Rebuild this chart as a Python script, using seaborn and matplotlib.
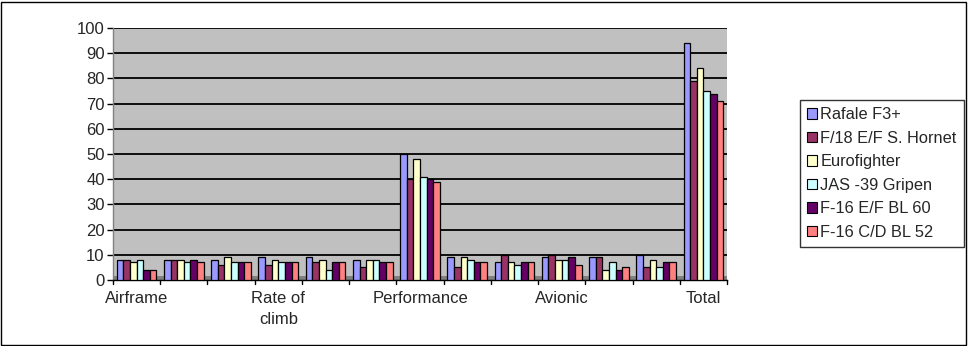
import numpy as np
import pandas as pd
import matplotlib
matplotlib.use("Agg")
import matplotlib.pyplot as plt
import seaborn as sns

series = ["Rafale F3+", "F/18 E/F S. Hornet", "Eurofighter", "JAS -39 Gripen",
          "F-16 E/F BL 60", "F-16 C/D BL 52"]
colors = ["#9999FF", "#993366", "#FFFFCC", "#CCFFFF", "#660066", "#FF8080"]

# 13 categories; only every third label is displayed in the original chart
tick_labels = ["Airframe", "", "", "Rate of\nclimb", "", "", "Performance",
               "", "", "Avionic", "", "", "Total"]

rafale   = [8, 8, 8, 9, 9, 8, 50, 9, 7, 9, 9, 10, 94]
hornet   = [8, 8, 6, 6, 7, 5, 40, 5, 10, 10, 9, 5, 79]
eurofigh = [7, 8, 9, 8, 8, 8, 48, 9, 7, 8, 4, 8, 84]
gripen   = [8, 7, 7, 7, 4, 8, 41, 8, 6, 8, 7, 5, 75]
f16ef    = [4, 8, 7, 7, 7, 7, 40, 7, 7, 9, 4, 7, 74]
f16cd    = [4, 7, 7, 7, 7, 7, 39, 7, 7, 6, 5, 7, 71]

values = [rafale, hornet, eurofigh, gripen, f16ef, f16cd]
rows = []
for s, vals in zip(series, values):
    for i, v in enumerate(vals):
        rows.append({"cat": i, "series": s, "value": v})
df = pd.DataFrame(rows)

sns.set_style("white")
plt.rcParams["font.family"] = ["Liberation Sans", "DejaVu Sans"]

fig = plt.figure(figsize=(9.68, 3.46), dpi=100)
W, H = 968, 346
ax = fig.add_axes([113 / W, 1 - 280 / H, (727 - 113) / W, (280 - 28) / H])
ax.set_facecolor("#C0C0C0")

sns.barplot(data=df, x="cat", y="value", hue="series", hue_order=series,
            palette=colors, width=0.84, edgecolor="black", linewidth=0.9,
            ax=ax, saturation=1, legend=True, zorder=3)

ax.set_ylim(0, 100)
ax.set_xlim(-0.5, 12.5)
ax.set_yticks(np.arange(0, 101, 10))
ax.tick_params(axis="y", labelsize=12, length=4, width=1, direction="out",
               color="black", pad=2, left=True)
for y in range(10, 101, 10):
    ax.axhline(y, color="black", lw=1.3, zorder=1)
ax.axhspan(0, 1.6, color="#808080", zorder=2, lw=0)

ax.set_xticks(np.arange(13))
ax.set_xticklabels(tick_labels, fontsize=12, linespacing=1.5)
ax.tick_params(axis="x", length=0, pad=8)
for b in np.arange(-0.5, 13, 1):
    ax.plot([b, b], [0, -1.6], color="black", lw=1, clip_on=False, zorder=5)

ax.set_xlabel("")
ax.set_ylabel("")
for side in ["top", "right"]:
    ax.spines[side].set_visible(False)
ax.spines["left"].set_color("#808080")
ax.spines["bottom"].set_color("black")
ax.spines["left"].set_linewidth(1)
ax.spines["bottom"].set_linewidth(1)

leg = ax.legend(loc="upper left", bbox_to_anchor=((800 - 113) / (727 - 113), (280 - 100) / (280 - 28)),
                frameon=True, fancybox=False, edgecolor="black", fontsize=11.8,
                handlelength=0.6, handleheight=0.6, handletextpad=0.2,
                labelspacing=0.52, borderpad=0.45, borderaxespad=0)
leg.get_frame().set_linewidth(1)
for h in leg.legend_handles:
    h.set_edgecolor("black")
    h.set_linewidth(0.8)

border = plt.Rectangle((1 / W, 1 / H), (W - 3) / W, (H - 3) / H, transform=fig.transFigure,
                       fill=False, edgecolor="black", lw=1)
fig.patches.append(border)

fig.savefig("out.png", dpi=100)
